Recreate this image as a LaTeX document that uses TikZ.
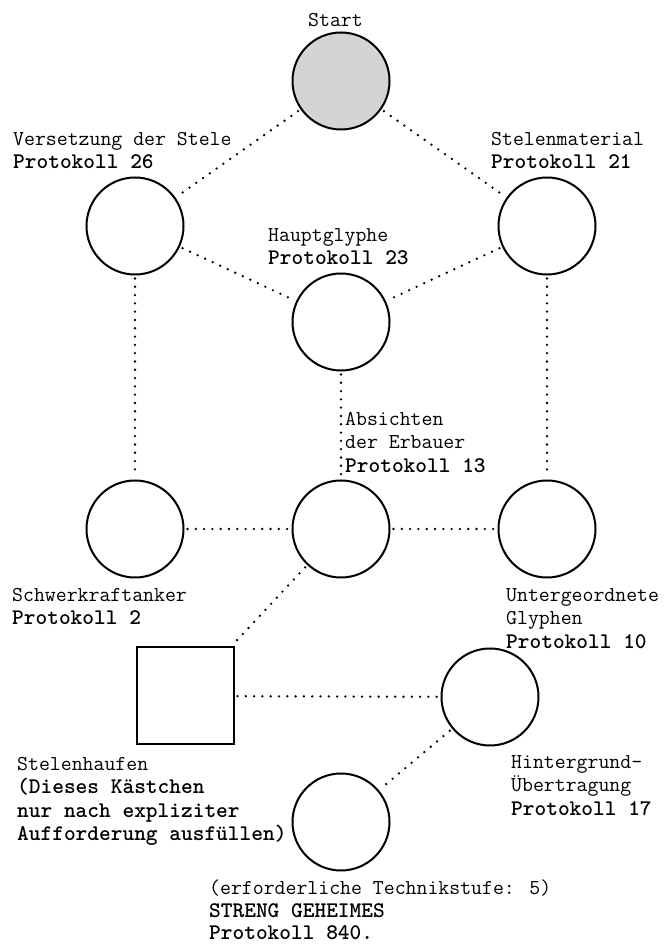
\documentclass[tikz,border=0pt]{standalone}
\usepackage{tikz}
\definecolor{startgray}{gray}{0.83}
\newcommand{\pk}[1]{{\fontsize{22.3}{23.5}\selectfont\bfseries #1}}
\tikzset{% 
  protocol/.style={%
    circle,
    draw,
    line width=2pt,
    minimum size=97pt,
    inner sep=0pt
  }
}
\tikzset{% 
  heap box/.style={%
    rectangle,
    draw,
    line width=2pt,
    minimum size=97pt,
    inner sep=0pt
  }
}
\tikzset{% 
  link/.style={%
    line width=2.6pt,
    line cap=round,
    dash pattern=on 0pt off 8.3pt,
    shorten <=3pt,
    shorten >=3pt
  }
}
\tikzset{% 
  caption/.style={%
    anchor=north west,
    inner sep=0pt,
    align=left,
    font=\ttfamily\fontsize{21.2}{23.5}\selectfont
  }
}

\begin{document}
\begin{tikzpicture}[x=1pt,y=1pt]
  \useasboundingbox (0,0) rectangle (666,945);
  \node[protocol, fill=startgray] (start) at (341, 864) {};
  \node[protocol] (vers) at (135, 719) {};
  \node[protocol] (mat) at (547, 719) {};
  \node[protocol] (haupt) at (341, 623) {};
  \node[protocol] (schwer) at (135, 416) {};
  \node[protocol] (absicht) at (341, 416) {};
  \node[protocol] (unter) at (547, 416) {};
  \node[heap box] (heap) at (185, 249) {};
  \node[protocol] (hinter) at (490, 248) {};
  \node[protocol] (geheim) at (341, 123) {};
  % captions
  \node[caption] (start label) at (308, 932) {Start};
  \node[caption] (vers label) at (13, 813) {Versetzung der Stele\\\pk{Protokoll 26}};
  \node[caption] (mat label) at (491, 813) {Stelenmaterial\\\pk{Protokoll 21}};
  \node[caption] (haupt label) at (268, 717) {Hauptglyphe\\\pk{Protokoll 23}};
  \node[caption] (absicht label) at (345, 533) {Absichten\\der Erbauer\\\pk{Protokoll 13}};
  \node[caption] (schwer label) at (12, 357) {Schwerkraftanker\\\pk{Protokoll 2}};
  \node[caption] (unter label) at (506, 357) {Untergeordnete\\Glyphen\\\pk{Protokoll 10}};
  \node[caption] (heap label) at (17, 188) {Stelenhaufen\\\pk{(Dieses Kästchen}\\\pk{nur nach expliziter}\\\pk{Aufforderung ausfüllen)}};
  \node[caption] (hinter label) at (511, 190) {Hintergrund-\\Übertragung\\\pk{Protokoll 17}};
  \node[caption] (geheim label) at (209, 65) {(erforderliche Technikstufe: 5)\\[-1pt]\pk{STRENG GEHEIMES}\\[-1pt]\pk{Protokoll 840.}};
  % dotted links
  \draw[link] (start) -- (vers);
  \draw[link] (start) -- (mat);
  \draw[link] (vers) -- (haupt);
  \draw[link] (mat) -- (haupt);
  \draw[link] (vers) -- (schwer);
  \draw[link] (haupt) -- (absicht);
  \draw[link] (mat) -- (unter);
  \draw[link] (schwer) -- (absicht);
  \draw[link] (absicht) -- (unter);
  \draw[link] (absicht) -- (heap);
  \draw[link] (heap) -- (hinter);
  \draw[link] (hinter) -- (geheim);
\end{tikzpicture}
\end{document}
